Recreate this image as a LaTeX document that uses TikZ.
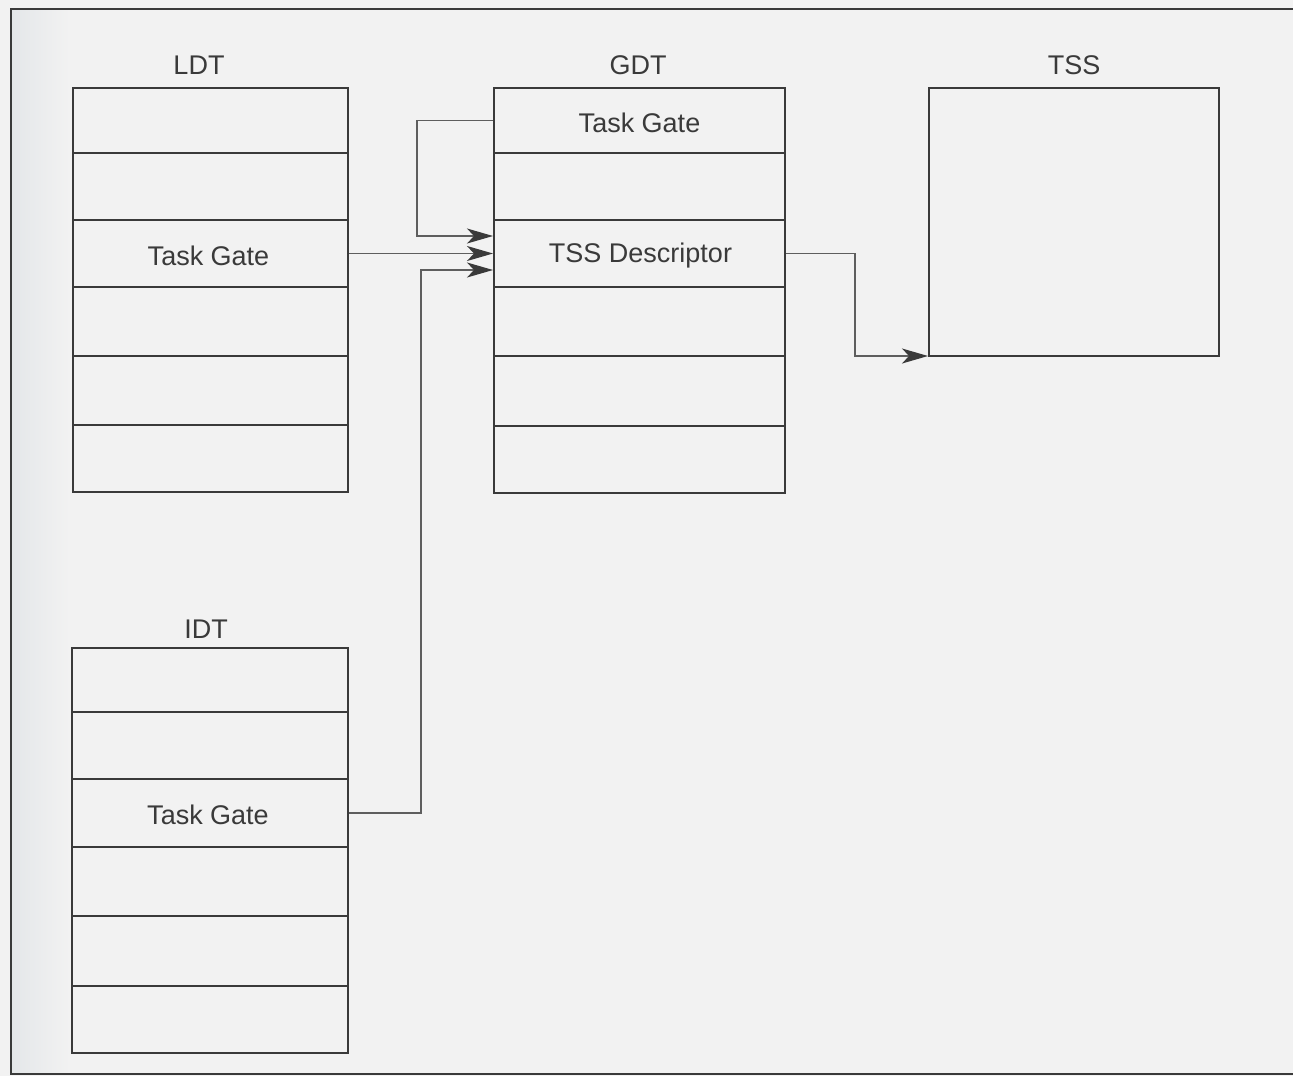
\documentclass[tikz,border=0pt]{standalone}
\usepackage{fontspec}
\setmainfont{Liberation Sans}
\usetikzlibrary{arrows.meta,calc,fit}
\definecolor{paper}{HTML}{F2F2F2}
\definecolor{edge}{HTML}{E4E7E9}
\definecolor{ink}{HTML}{3A3A3A}
\definecolor{wire}{HTML}{5E5E5E}
\tikzset{
  cell/.style={draw=ink, line width=1pt, inner sep=0pt, font=\fontsize{13.5}{16}\selectfont, text=ink},
  title/.style={font=\fontsize{13.5}{16}\selectfont, text=ink, inner sep=0pt},
  conn/.style={draw=wire, line width=0.7pt,
    -{Stealth[length=13pt,width=7.5pt,inset=3.5pt,color=ink]}},
}
\begin{document}
\begin{tikzpicture}[x=0.5pt,y=-0.5pt]
  % page, scanned-edge shading and frame
  \fill[paper] (0,0) rectangle (1293,1076);
  \useasboundingbox (0,0) rectangle (1293,1076);
  \shade[left color=edge, right color=paper] (11,9) rectangle (70,1074);
  \draw[ink, line width=0.9pt] (1293,9) -- (11,9) -- (11,1074) -- (1293,1074);

  % LDT
  \node[title] (ldtT) at (199,65) {LDT};
  \foreach \i/\a/\b in {1/88/153,2/153/220,3/220/287,4/287/356,5/356/425,6/425/492}
    \node[cell, fit={(73,\a)(348,\b)}] (ldt\i) {};
  \node at ($(ldt3)+(-2,2)$) [title] (ldtG) {Task Gate};

  % GDT
  \node[title] (gdtT) at (638,65) {GDT};
  \foreach \i/\a/\b in {1/88/153,2/153/220,3/220/287,4/287/356,5/356/426,6/426/493}
    \node[cell, fit={(494,\a)(785,\b)}] (gdt\i) {};
  \node at ($(gdt1)+(0,2)$) [title] (gdtG) {Task Gate};
  \node at ($(gdt3)+(1,2)$) [title] (gdtD) {TSS Descriptor};

  % TSS
  \node[title] (tssT) at (1074,65) {TSS};
  \node[cell, fit={(929,88)(1219,356)}] (tss) {};

  % IDT
  \node[title] (idtT) at (206,629) {IDT};
  \foreach \i/\a/\b in {1/648/712,2/712/779,3/779/847,4/847/916,5/916/986,6/986/1053}
    \node[cell, fit={(72,\a)(348,\b)}] (idt\i) {};
  \node at ($(idt3)+(-2,2)$) [title] (idtG) {Task Gate};

  % connectors into the TSS descriptor
  \draw[conn] (gdt1.west) -- ++(-76,0) |- ($(gdt3.west)+(0,-17.5)$);
  \draw[conn] (ldt3.east) -- (gdt3.west);
  \draw[conn] (idt3.east) -- ++(72,0) |- ($(gdt3.west)+(0,16.5)$);
  % descriptor to the TSS
  \draw[conn] (gdt3.east) -- ++(69,0) |- ($(tss.south west)+(0,-1)$);
\end{tikzpicture}
\end{document}
